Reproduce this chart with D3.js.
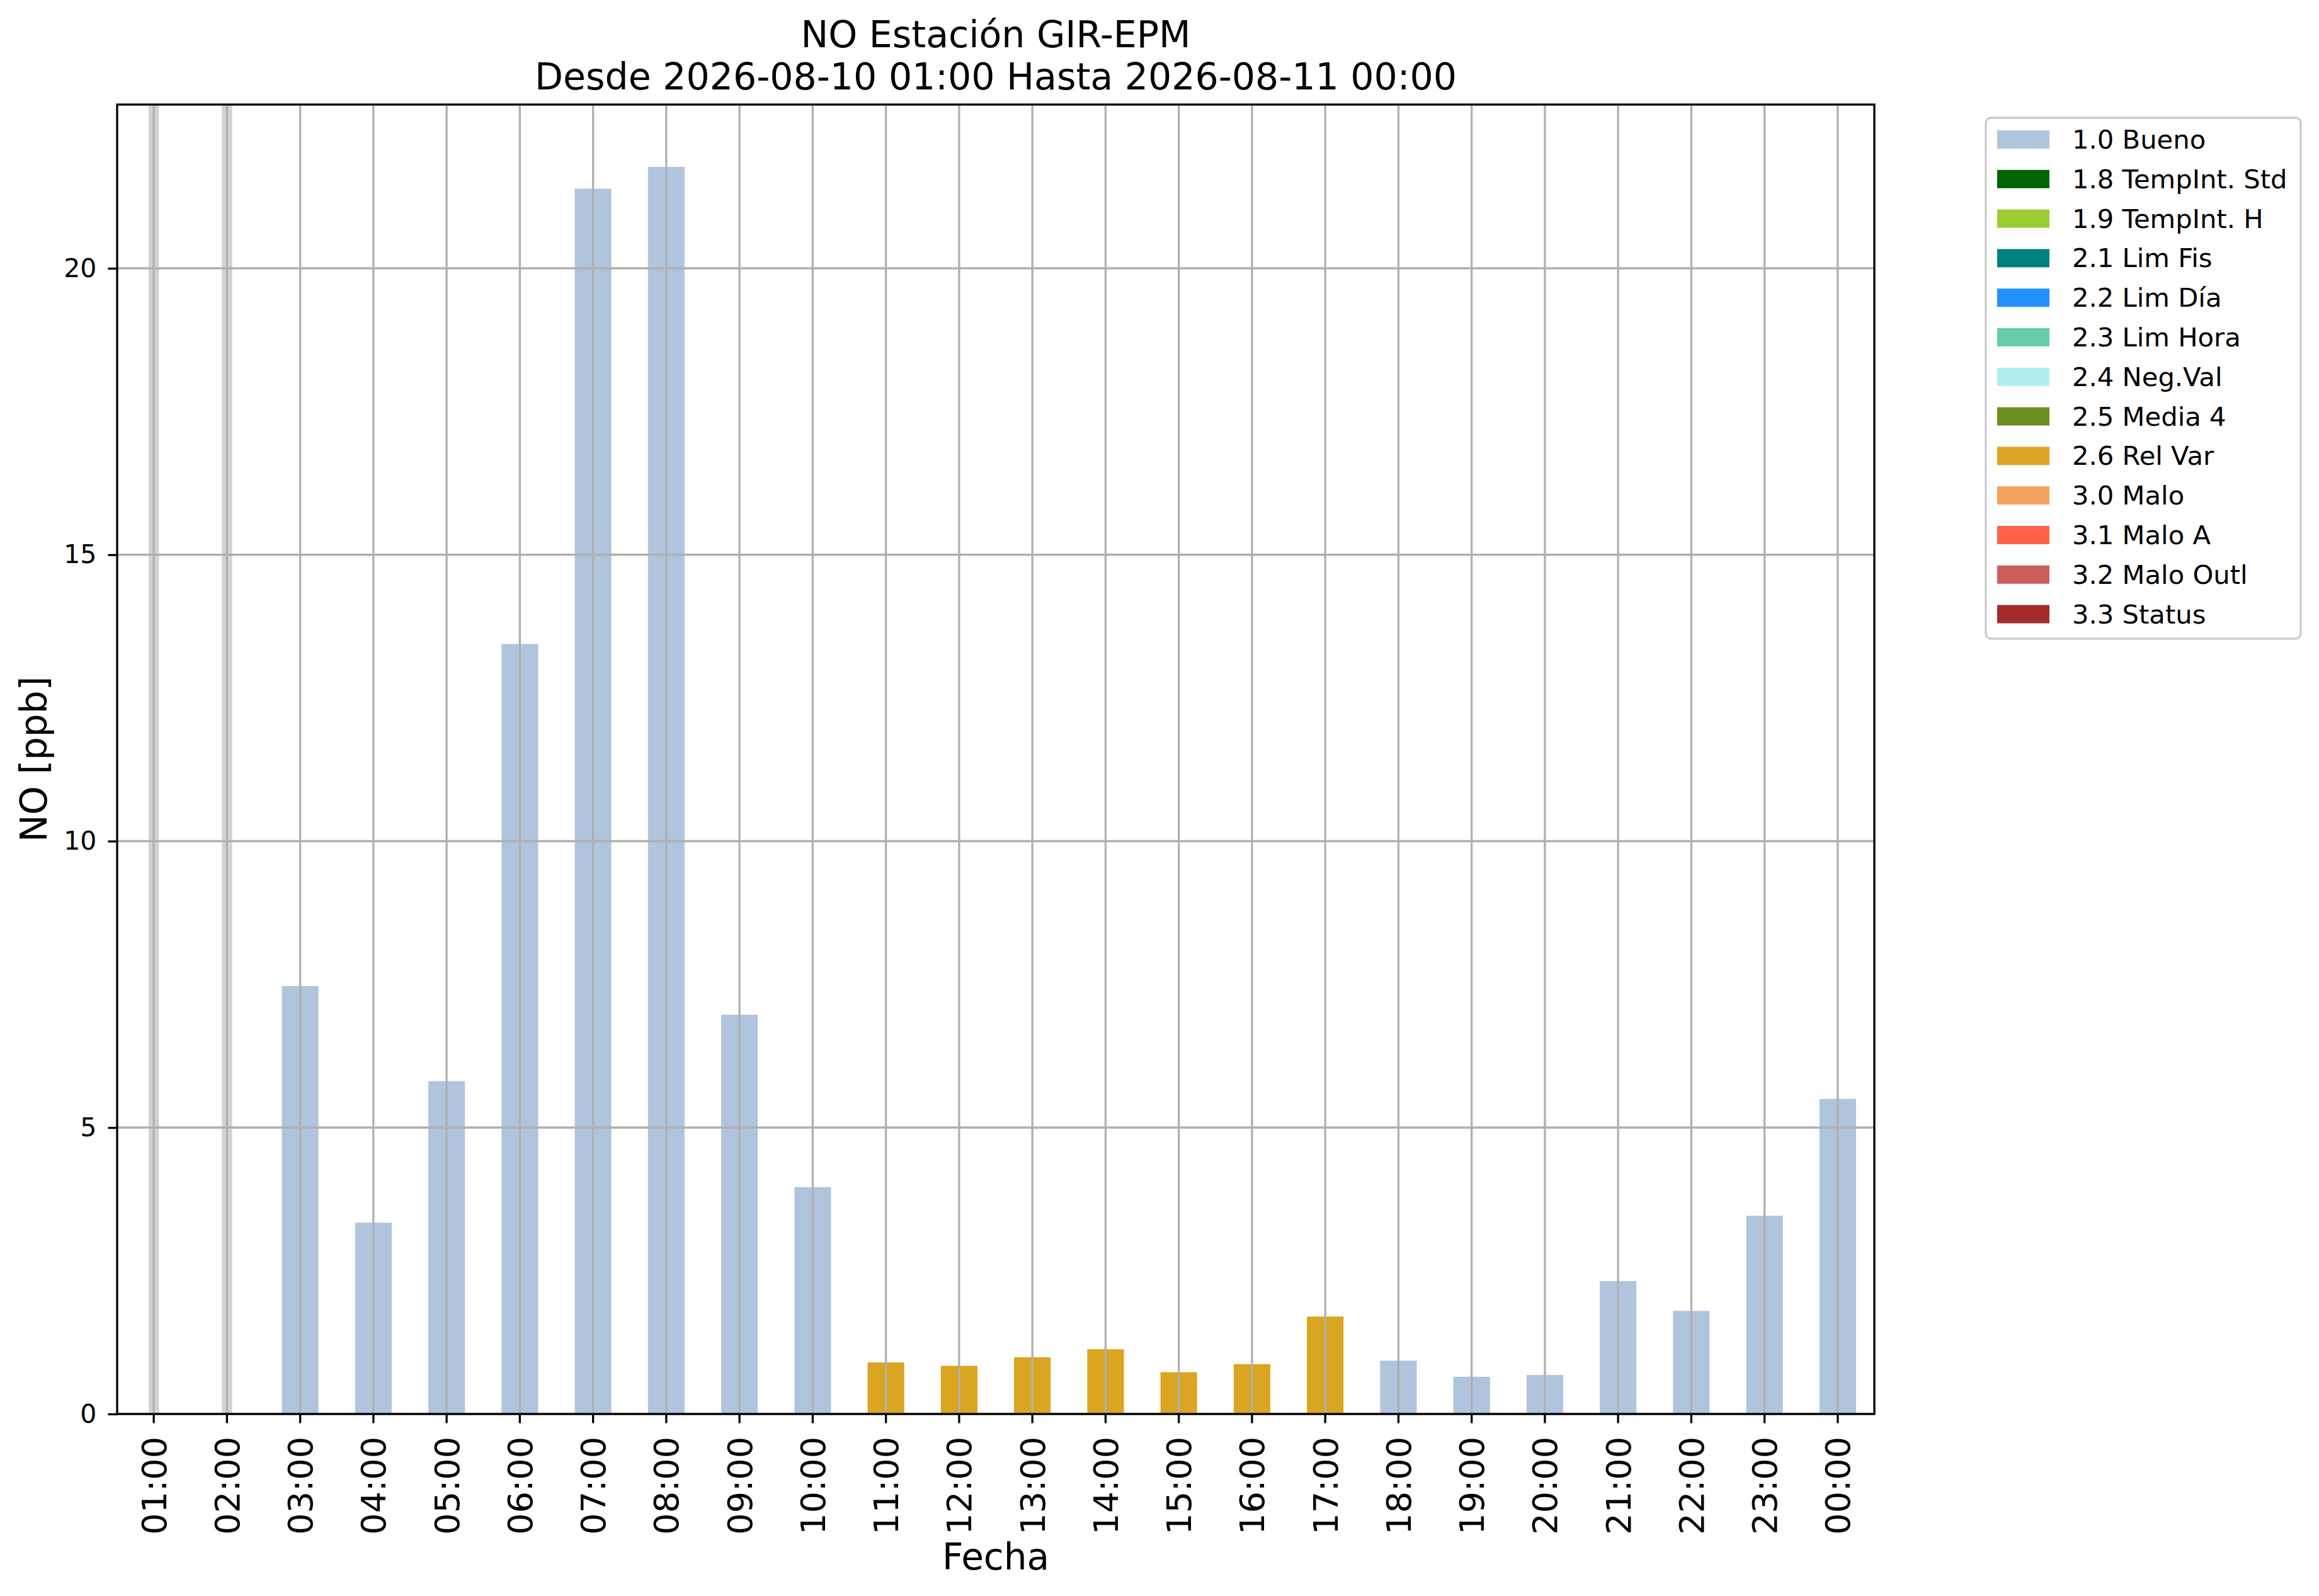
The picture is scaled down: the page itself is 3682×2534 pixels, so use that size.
<!DOCTYPE html>
<html>
<head>
<meta charset="utf-8">
<script src="https://cdn.jsdelivr.net/npm/d3@7"></script>
<style>
  body { margin: 0; background: #fff; }
  svg { display: block; font-family: "DejaVu Sans", sans-serif; }
</style>
</head>
<body>
<div id="elements"></div>
<script>
'use strict';
// hourly NO values, null where there is no data
var hours = ["01:00", "02:00", "03:00", "04:00", "05:00", "06:00", "07:00", "08:00",
    "09:00", "10:00", "11:00", "12:00", "13:00", "14:00", "15:00", "16:00",
    "17:00", "18:00", "19:00", "20:00", "21:00", "22:00", "23:00", "00:00"];
var noValues = [null, null, 7.47, 3.34, 5.81, 13.44, 21.39, 21.77,
    6.97, 3.96, 0.90, 0.84, 0.99, 1.13, 0.73, 0.87,
    1.70, 0.93, 0.65, 0.68, 2.32, 1.80, 3.46, 5.50];
var flagCodes = [null, null, "1.0", "1.0", "1.0", "1.0", "1.0", "1.0",
    "1.0", "1.0", "2.6", "2.6", "2.6", "2.6", "2.6", "2.6",
    "2.6", "1.0", "1.0", "1.0", "1.0", "1.0", "1.0", "1.0"];

var legendCodes = ["1.0", "1.8", "1.9", "2.1", "2.2", "2.3", "2.4", "2.5", "2.6", "3.0", "3.1", "3.2", "3.3"];
var legendNames = ["Bueno", "TempInt. Std", "TempInt. H", "Lim Fis", "Lim Día", "Lim Hora",
    "Neg.Val", "Media 4", "Rel Var", "Malo", "Malo A", "Malo Outl", "Status"];
var legendColors = ["#b0c4de", "#006400", "#9acd32", "#008080", "#1e90ff", "#66cdaa",
    "#afeeee", "#6b8e23", "#daa520", "#f4a460", "#ff6347", "#cd5c5c", "#a52a2a"];
var yTicks = [0, 5, 10, 15, 20];

var titleLines = ["NO Estación GIR-EPM", "Desde 2026-08-10 01:00 Hasta 2026-08-11 00:00"];

var W = 3682, H = 2534;
var margin = {top: 166, right: 706, bottom: 289, left: 186};
var width = W - margin.left - margin.right;
var height = H - margin.top - margin.bottom;

var data = hours.map(function(h, i) {
    return {hour: h, value: noValues[i], flag: flagCodes[i]};
});

var svg = d3.select("#elements").append("svg")
    .attr("width", W)
    .attr("height", H);

var g = svg.append("g").attr("transform", "translate(" + margin.left + "," + margin.top + ")");

var x = d3.scaleBand()
    .domain(hours)
    .range([0, width])
    .paddingInner(0.5)
    .paddingOuter(0.25);
var y = d3.scaleLinear()
    .domain([0, d3.max(noValues) * 1.05])
    .range([height, 0]);
var color = d3.scaleOrdinal(legendCodes, legendColors);
var mid = function(h) { return x(h) + x.bandwidth() / 2; };

// bars
g.append("g").selectAll("rect")
    .data(data.filter(function(d) { return d.value != null; }))
    .enter().append("rect")
        .attr("x", function(d) { return x(d.hour); })
        .attr("width", x.bandwidth())
        .attr("y", function(d) { return y(d.value); })
        .attr("height", function(d) { return y(0) - y(d.value); })
        .attr("fill", function(d) { return color(d.flag); });

// hours without data
g.append("g").selectAll("line")
    .data(data.filter(function(d) { return d.value == null; }))
    .enter().append("line")
        .attr("x1", function(d) { return mid(d.hour); })
        .attr("x2", function(d) { return mid(d.hour); })
        .attr("y1", 0)
        .attr("y2", height)
        .attr("stroke", "#d3d3d3")
        .attr("stroke-width", 16.5);

// grid (drawn over the bars like the original)
var grid = g.append("g").attr("stroke", "#b0b0b0").attr("stroke-width", 3.3);
grid.selectAll(".gx")
    .data(hours)
    .enter().append("line")
        .attr("x1", mid).attr("x2", mid)
        .attr("y1", 0).attr("y2", height);
grid.selectAll(".gy")
    .data(yTicks)
    .enter().append("line")
        .attr("x1", 0).attr("x2", width)
        .attr("y1", function(d) { return y(d); })
        .attr("y2", function(d) { return y(d); });

// axes
var axisBottom = g.append("g")
    .attr("transform", "translate(0," + height + ")")
    .call(d3.axisBottom(x).tickSizeInner(14.6).tickSizeOuter(0).tickPadding(21));
axisBottom.selectAll("text")
    .attr("font-size", 54)
    .attr("font-family", "DejaVu Sans")
    .attr("fill", "#000")
    .attr("y", 0)
    .attr("x", -36)
    .attr("dy", "0.36em")
    .attr("transform", "rotate(-90)")
    .style("text-anchor", "end");

var axisLeft = g.append("g")
    .call(d3.axisLeft(y).tickValues(yTicks).tickSizeInner(14.6).tickSizeOuter(0).tickPadding(18));
axisLeft.selectAll("text")
    .attr("font-size", 41)
    .attr("font-family", "DejaVu Sans")
    .attr("fill", "#000");

[axisBottom, axisLeft].forEach(function(a) {
    a.select(".domain").remove();
    a.selectAll(".tick line").attr("stroke", "#000").attr("stroke-width", 3.3);
});

// spines
g.append("rect")
    .attr("width", width)
    .attr("height", height)
    .attr("fill", "none")
    .attr("stroke", "#000")
    .attr("stroke-width", 3.3);

// titles and labels
svg.append("text")
    .attr("x", margin.left + width / 2)
    .attr("text-anchor", "middle")
    .attr("font-size", 58.5)
    .selectAll("tspan")
    .data(titleLines)
    .enter().append("tspan")
        .attr("x", margin.left + width / 2)
        .attr("y", function(d, i) { return 75 + i * 67; })
        .text(function(d) { return d; });

svg.append("text")
    .attr("x", margin.left + width / 2)
    .attr("y", 2492)
    .attr("text-anchor", "middle")
    .attr("font-size", 58)
    .text("Fecha");

svg.append("text")
    .attr("transform", "translate(74," + (margin.top + height / 2) + ") rotate(-90)")
    .attr("text-anchor", "middle")
    .attr("font-size", 58)
    .text("NO [ppb]");

// legend
var legend = svg.append("g").attr("transform", "translate(3153,187)");
legend.append("rect")
    .attr("width", 500)
    .attr("height", 827)
    .attr("rx", 8)
    .attr("fill", "#fff")
    .attr("stroke", "#cccccc")
    .attr("stroke-width", 3.3);

var rows = legend.selectAll(".row")
    .data(legendCodes)
    .enter().append("g")
        .attr("transform", function(d, i) { return "translate(18," + (20 + i * 62.8) + ")"; });
rows.append("rect")
    .attr("width", 83)
    .attr("height", 29)
    .attr("fill", function(d) { return color(d); });
rows.append("text")
    .attr("x", 119)
    .attr("y", 29)
    .attr("font-size", 41.7)
    .text(function(d, i) { return d + " " + legendNames[i]; });
</script>
</body>
</html>
